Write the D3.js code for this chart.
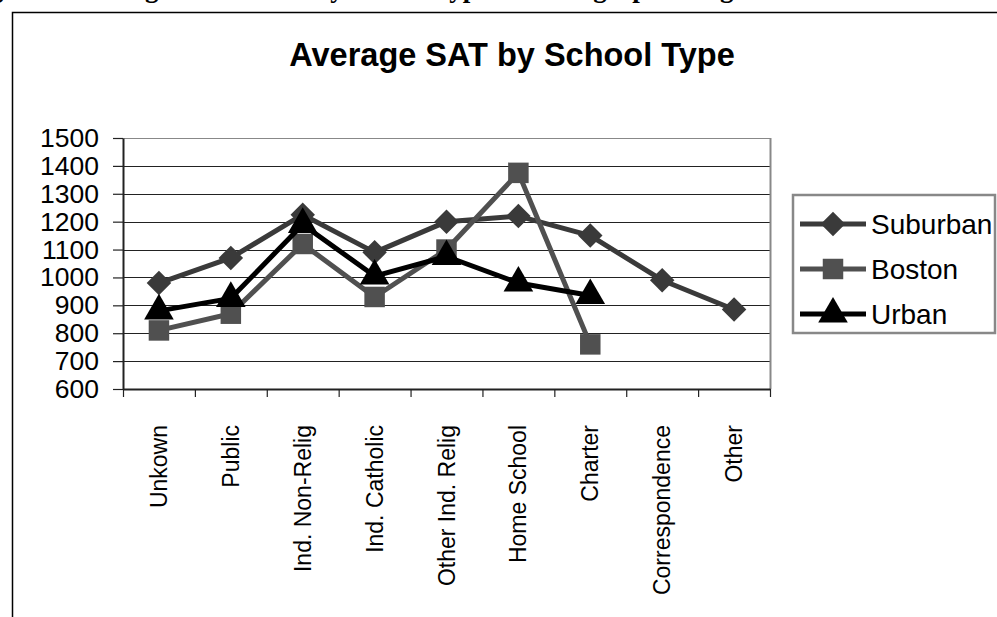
<!DOCTYPE html>
<html>
<head>
<meta charset="utf-8">
<script src="https://cdn.jsdelivr.net/npm/d3@7"></script>
<style>
  body { margin: 0; background: #fff; }
  svg { display: block; font-family: "Liberation Sans", Arial, sans-serif; }
</style>
</head>
<body>
<div id="chart"></div>
<script>
// chart data
var categories = ["Unkown", "Public", "Ind. Non-Relig", "Ind. Catholic", "Other Ind. Relig",
                  "Home School", "Charter", "Correspondence", "Other"];
var suburban = [980, 1070, 1225, 1090, 1200, 1220, 1150, 990, 885];
var boston   = [810, 870, 1120, 930, 1100, 1375, 760, null, null];
var urban    = [880, 925, 1190, 1005, 1075, 980, 935, null, null];
var yTicks = [600, 700, 800, 900, 1000, 1100, 1200, 1300, 1400, 1500];

var seriesNames = ["Suburban", "Boston", "Urban"];
var seriesVals  = [suburban, boston, urban];
var seriesColor = ["#3a3a3a", "#505050", "#000000"];
var seriesShape = [d3.symbolSquare, d3.symbolSquare, d3.symbolTriangle];
var seriesRot   = [45, 0, 0];
var seriesSize  = [300, 420, 380];

var width = 997, height = 617;
var plot = {left: 123, right: 770, top: 138, bottom: 389};

var svg = d3.select("#chart").append("svg")
    .attr("width", width)
    .attr("height", height);

// cut off caption of the document page above the chart
svg.append("text")
    .attr("x", -34)
    .attr("y", -3)
    .style("font-family", "'Liberation Serif', 'Times New Roman', serif")
    .style("font-weight", "bold")
    .style("font-size", "27px")
    .text("Figure 4: Average SAT Scores by School Type and Geographic Region");

// chart frame
svg.append("rect")
    .attr("x", 12.5)
    .attr("y", 12.5)
    .attr("width", 1100)
    .attr("height", 700)
    .style("fill", "none")
    .style("stroke", "#000")
    .style("stroke-width", 1.5);

// title
svg.append("text")
    .attr("x", 512)
    .attr("y", 66)
    .style("text-anchor", "middle")
    .style("font-weight", "bold")
    .style("font-size", "32.5px")
    .text("Average SAT by School Type");

var x = d3.scaleBand()
    .domain(categories)
    .range([plot.left, plot.right])
    .padding(0);

var xEdge = d3.scaleLinear()
    .domain([0, categories.length])
    .range([plot.left, plot.right]);

var y = d3.scaleLinear()
    .domain([600, 1500])
    .range([plot.bottom, plot.top]);

// gridlines
svg.append("g")
    .selectAll("line")
    .data(yTicks.slice(1))
    .enter().append("line")
    .attr("x1", plot.left)
    .attr("x2", plot.right)
    .attr("y1", function(d) { return Math.round(y(d)) + 0.5; })
    .attr("y2", function(d) { return Math.round(y(d)) + 0.5; })
    .style("stroke", function(d) { return d == 1500 ? "#888" : "#222"; })
    .style("stroke-width", 1.2);

// plot area right border
svg.append("line")
    .attr("x1", plot.right + 0.5)
    .attr("x2", plot.right + 0.5)
    .attr("y1", plot.top)
    .attr("y2", plot.bottom)
    .style("stroke", "#888")
    .style("stroke-width", 2);

// y axis
var yAxis = svg.append("g")
    .attr("class", "y axis")
    .attr("transform", "translate(" + plot.left + ",0)")
    .call(d3.axisLeft(y).tickValues(yTicks).tickFormat(d3.format("d"))
            .tickSize(10).tickSizeOuter(0).tickPadding(14));
yAxis.select(".domain").style("stroke", "#222").style("stroke-width", 2);
yAxis.selectAll(".tick line").style("stroke", "#222").style("stroke-width", 1.2);
yAxis.selectAll("text")
    .style("font-size", "26.5px")
    .style("fill", "#000")
    .style("font-family", "'Liberation Sans', Arial, sans-serif");

// x axis: tick marks on the category boundaries
var xAxis = svg.append("g")
    .attr("class", "x axis")
    .attr("transform", "translate(0," + plot.bottom + ")")
    .call(d3.axisBottom(xEdge).ticks(categories.length).tickSize(8).tickSizeOuter(0).tickFormat(""));
xAxis.select(".domain").style("stroke", "#222").style("stroke-width", 2);
xAxis.selectAll(".tick line").style("stroke", "#222").style("stroke-width", 1.2);

// x axis labels
var xLabels = svg.append("g")
    .attr("transform", "translate(0," + plot.bottom + ")")
    .call(d3.axisBottom(x).tickSize(0));
xLabels.select(".domain").remove();
xLabels.selectAll("text")
    .style("font-size", "23px")
    .style("fill", "#000")
    .style("font-family", "'Liberation Sans', Arial, sans-serif")
    .style("text-anchor", "end")
    .attr("transform", "rotate(-90)")
    .attr("x", -36)
    .attr("y", 0)
    .attr("dy", "0.35em");

// series lines and markers
var line = d3.line()
    .defined(function(d) { return d.v != null; })
    .x(function(d) { return x(d.c) + x.bandwidth() / 2; })
    .y(function(d) { return y(d.v); });

seriesVals.forEach(function(vals, s) {
    var pts = vals.map(function(v, i) { return {c: categories[i], v: v}; });
    svg.append("path")
        .datum(pts)
        .attr("d", line)
        .style("fill", "none")
        .style("stroke", seriesColor[s])
        .style("stroke-width", 5)
        .style("stroke-linejoin", "round");
    svg.append("g")
        .selectAll("path")
        .data(pts.filter(function(d) { return d.v != null; }))
        .enter().append("path")
        .attr("d", d3.symbol().type(seriesShape[s]).size(seriesSize[s]))
        .attr("transform", function(d) {
            return "translate(" + (x(d.c) + x.bandwidth() / 2) + "," + y(d.v) + ") rotate(" + seriesRot[s] + ")";
        })
        .style("fill", seriesColor[s]);
});

// legend
var legend = svg.append("g");
legend.append("rect")
    .attr("x", 793)
    .attr("y", 195)
    .attr("width", 202)
    .attr("height", 138)
    .style("fill", "#fff")
    .style("stroke", "#888")
    .style("stroke-width", 2.5);

seriesNames.forEach(function(name, s) {
    var ly = 224 + s * 45;
    legend.append("line")
        .attr("x1", 800)
        .attr("x2", 866)
        .attr("y1", ly)
        .attr("y2", ly)
        .style("stroke", seriesColor[s])
        .style("stroke-width", 5);
    legend.append("path")
        .attr("d", d3.symbol().type(seriesShape[s]).size(seriesSize[s]))
        .attr("transform", "translate(833," + ly + ") rotate(" + seriesRot[s] + ")")
        .style("fill", seriesColor[s]);
    legend.append("text")
        .attr("x", 871)
        .attr("y", ly)
        .attr("dy", "0.36em")
        .style("font-size", "28px")
        .text(name);
});
</script>
</body>
</html>
